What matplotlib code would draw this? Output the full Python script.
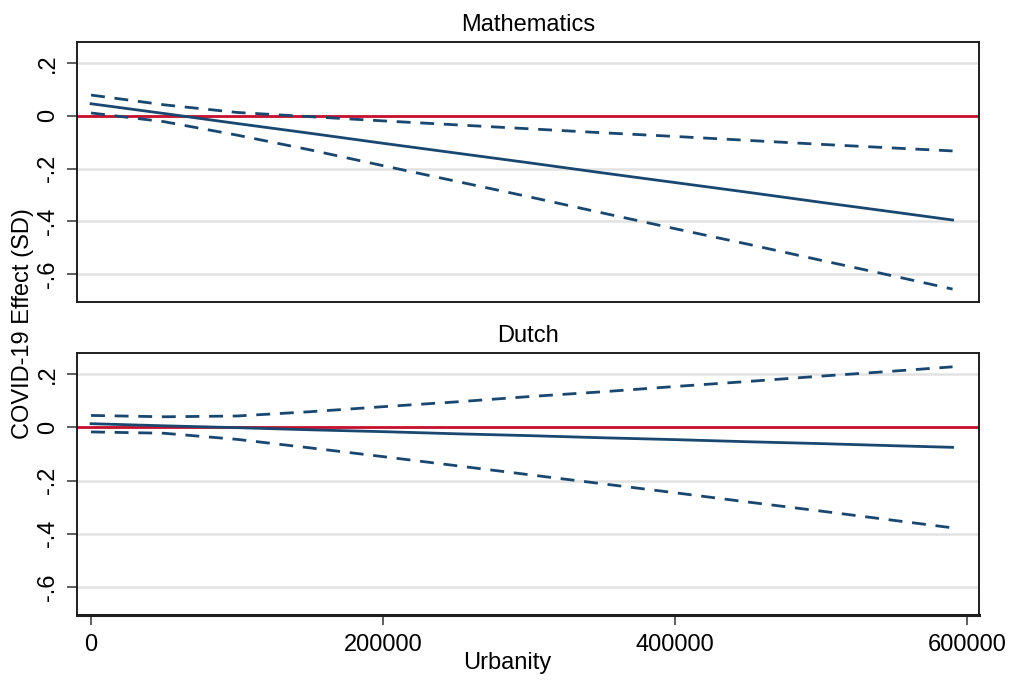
import numpy as np
import matplotlib
matplotlib.use('Agg')
import matplotlib.pyplot as plt

# Urbanity values where the margins were evaluated
urbanity = [0, 50000, 100000, 150000, 200000, 250000, 300000,
            350000, 400000, 450000, 500000, 550000, 590000]

# Mathematics: point estimate and 95% CI (SD)
math_est = [0.046, 0.009, -0.029, -0.066, -0.104, -0.141, -0.178,
            -0.216, -0.253, -0.290, -0.328, -0.365, -0.395]
math_hi = [0.079, 0.042, 0.013, -0.003, -0.019, -0.034, -0.049,
           -0.064, -0.078, -0.093, -0.108, -0.122, -0.133]
math_lo = [0.011, -0.022, -0.073, -0.129, -0.189, -0.248, -0.307,
           -0.368, -0.428, -0.487, -0.548, -0.608, -0.657]

# Dutch: point estimate and 95% CI (SD)
dutch_est = [0.014, 0.006, -0.001, -0.009, -0.016, -0.024, -0.031,
             -0.039, -0.046, -0.054, -0.061, -0.069, -0.075]
dutch_hi = [0.045, 0.040, 0.043, 0.059, 0.078, 0.096, 0.116,
            0.134, 0.154, 0.173, 0.193, 0.212, 0.228]
dutch_lo = [-0.017, -0.022, -0.045, -0.077, -0.110, -0.144, -0.178,
            -0.212, -0.246, -0.281, -0.315, -0.350, -0.378]

panel_titles = ['Mathematics', 'Dutch']
y_ticks = [-0.6, -0.4, -0.2, 0, 0.2]
y_ticklabels = ['-.6', '-.4', '-.2', '0', '.2']
x_ticks = [0, 200000, 400000, 600000]
x_ticklabels = ['0', '200000', '400000', '600000']

plt.rcParams['font.family'] = ['Liberation Sans', 'DejaVu Sans']

NAVY = '#1a476f'
RED = '#c8102e'
GRID = '#e2e2e2'
FS = 17

fig = plt.figure(figsize=(10.11, 6.84), dpi=100)
ax_top = fig.add_axes([0.0762, 0.5585, 0.892, 0.380])
ax_bot = fig.add_axes([0.0762, 0.1009, 0.892, 0.383])

panels = [(ax_top, math_est, math_hi, math_lo),
          (ax_bot, dutch_est, dutch_hi, dutch_lo)]

for i, (ax, est, hi, lo) in enumerate(panels):
    for yv in y_ticks:
        ax.axhline(yv, color=GRID, lw=1.8, zorder=1)
    ax.axhline(0, color=RED, lw=2.0, zorder=2)
    ax.plot(urbanity, est, color=NAVY, lw=2.0, zorder=3)
    ax.plot(urbanity, hi, color=NAVY, lw=2.0, ls=(0, (5, 3.5)), zorder=3)
    ax.plot(urbanity, lo, color=NAVY, lw=2.0, ls=(0, (5, 3.5)), zorder=3)

    ax.set_xlim(-9600, 608000)
    ax.set_ylim(-0.706, 0.28)
    ax.set_yticks(y_ticks)
    ax.set_yticklabels(y_ticklabels, rotation=90, va='center', fontsize=FS)
    ax.tick_params(axis='y', length=7, width=1.1, pad=6, color='#333333')
    ax.set_title(panel_titles[i], fontsize=FS, pad=8)
    for sp in ax.spines.values():
        sp.set_linewidth(1.4)
        sp.set_color('#1e1e1e')

ax_top.set_xticks([])
ax_bot.set_xticks(x_ticks)
ax_bot.set_xticklabels(x_ticklabels, fontsize=FS)
ax_bot.tick_params(axis='x', length=7, width=1.1, pad=7, color='#333333')
ax_bot.spines['bottom'].set_linewidth(2.2)

fig.text(0.502, 0.031, 'Urbanity', ha='center', va='center', fontsize=FS)
fig.text(0.023, 0.527, 'COVID-19 Effect (SD)', ha='center', va='center',
         rotation=90, fontsize=FS)

fig.savefig('out.png', dpi=100, facecolor='white')
plt.close(fig)
